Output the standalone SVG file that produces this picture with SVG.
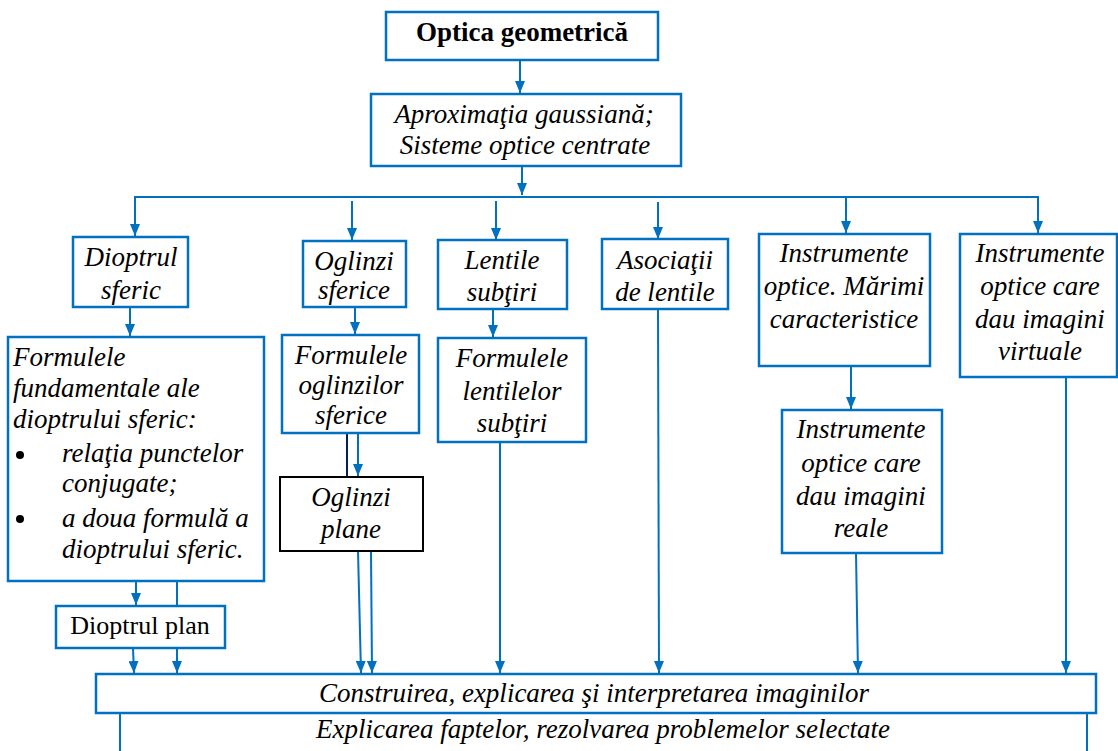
<svg xmlns="http://www.w3.org/2000/svg" width="1118" height="751" viewBox="0 0 1118 751">
  <defs>
    <marker id="arrow" viewBox="0 0 12 10" refX="12" refY="5" markerWidth="12" markerHeight="10" markerUnits="userSpaceOnUse" orient="auto">
      <path d="M0,0 L12,5 L0,10 z" fill="#0070C0"/>
    </marker>
  </defs>
  <style>
    .box { fill: #ffffff; stroke: #0070C0; stroke-width: 2.5; }
    .box-dark { fill: #ffffff; stroke: #000000; stroke-width: 2; }
    text { font-family: 'Liberation Serif', 'Times New Roman', serif; font-size: 27px; fill: #000000; }
    .i { font-style: italic; }
    .b { font-weight: bold; }
    .c { text-anchor: middle; }
    .ln { fill: none; stroke: #0070C0; stroke-width: 2; }
    .arr { fill: none; stroke: #0070C0; stroke-width: 2; marker-end: url(#arrow); }
    .navy { fill: none; stroke: #002060; stroke-width: 2; }
  </style>

  <rect width="1118" height="751" fill="#ffffff"/>

  <!-- connectors -->
  <g id="connectors">
    <line class="arr" x1="520" y1="61" x2="520" y2="93"/>
    <line class="arr" x1="522" y1="166" x2="522" y2="195"/>
    <line class="ln" x1="134" y1="197" x2="1039" y2="197"/>
    <line class="arr" x1="135" y1="197" x2="135" y2="236"/>
    <line class="arr" x1="352" y1="201" x2="352" y2="240"/>
    <line class="arr" x1="496" y1="201" x2="496" y2="240"/>
    <line class="arr" x1="658" y1="202" x2="658" y2="239"/>
    <line class="arr" x1="846" y1="197" x2="846" y2="233"/>
    <line class="arr" x1="1038" y1="197" x2="1038" y2="233"/>

    <line class="arr" x1="130" y1="307" x2="130" y2="336"/>
    <line class="arr" x1="355" y1="307" x2="355" y2="334"/>
    <line class="arr" x1="493" y1="309" x2="493" y2="337"/>
    <line class="arr" x1="851" y1="366" x2="851" y2="409"/>

    <line class="navy" x1="347" y1="433" x2="347" y2="477"/>
    <line class="arr" x1="358" y1="433" x2="358" y2="476"/>

    <line class="arr" x1="136" y1="581" x2="136" y2="605"/>
    <line class="ln" x1="177" y1="581" x2="177" y2="606"/>

    <line class="arr" x1="133" y1="648" x2="134" y2="673"/>
    <line class="arr" x1="177" y1="648" x2="177" y2="673"/>
    <line class="arr" x1="358" y1="551" x2="361" y2="673"/>
    <line class="arr" x1="371" y1="551" x2="372" y2="673"/>
    <line class="arr" x1="500" y1="442" x2="500" y2="673"/>
    <line class="arr" x1="658" y1="309" x2="659" y2="673"/>
    <line class="arr" x1="856" y1="553" x2="858" y2="673"/>
    <line class="arr" x1="1066" y1="377" x2="1066" y2="673"/>

    <line class="ln" x1="120" y1="713" x2="120" y2="751"/>
    <line class="ln" x1="1087" y1="713" x2="1087" y2="751"/>
  </g>

  <!-- nodes -->
  <g id="optica-geometrica">
    <rect class="box" x="386" y="12" width="272" height="48"/>
    <text class="b c" x="522" y="41">Optica geometrică</text>
  </g>

  <g id="aproximatia">
    <rect class="box" x="371" y="94" width="310" height="72"/>
    <text class="i c" x="524" y="123">Aproximaţia gaussiană;</text>
    <text class="i c" x="525" y="154">Sisteme optice centrate</text>
  </g>

  <g id="dioptrul-sferic">
    <rect class="box" x="73" y="237" width="115" height="70"/>
    <text class="i c" x="131" y="266">Dioptrul</text>
    <text class="i c" x="131" y="299">sferic</text>
  </g>

  <g id="oglinzi-sferice">
    <rect class="box" x="303" y="241" width="103" height="66"/>
    <text class="i c" x="354" y="270">Oglinzi</text>
    <text class="i c" x="354" y="299">sferice</text>
  </g>

  <g id="lentile-subtiri">
    <rect class="box" x="438" y="240" width="129" height="69"/>
    <text class="i c" x="502" y="269">Lentile</text>
    <text class="i c" x="502" y="301">subţiri</text>
  </g>

  <g id="asociatii">
    <rect class="box" x="602" y="239" width="126" height="70"/>
    <text class="i c" x="665" y="269">Asociaţii</text>
    <text class="i c" x="665" y="301">de lentile</text>
  </g>

  <g id="instrumente-marimi">
    <rect class="box" x="759" y="234" width="171" height="132"/>
    <text class="i c" x="844" y="262">Instrumente</text>
    <text class="i c" x="844" y="295">optice. Mărimi</text>
    <text class="i c" x="844" y="328">caracteristice</text>
  </g>

  <g id="instrumente-virtuale">
    <rect class="box" x="960" y="234" width="157" height="143"/>
    <text class="i c" x="1040" y="262">Instrumente</text>
    <text class="i c" x="1040" y="295">optice care</text>
    <text class="i c" x="1040" y="328">dau imagini</text>
    <text class="i c" x="1040" y="360">virtuale</text>
  </g>

  <g id="formulele-dioptrului">
    <rect class="box" x="8" y="337" width="256" height="244"/>
    <text class="i" x="13" y="366">Formulele</text>
    <text class="i" x="13" y="397">fundamentale ale</text>
    <text class="i" x="13" y="428">dioptrului sferic:</text>
    <circle cx="20" cy="455" r="4" fill="#000000"/>
    <text class="i" x="62" y="462">relaţia punctelor</text>
    <text class="i" x="62" y="492">conjugate;</text>
    <circle cx="20" cy="519" r="4" fill="#000000"/>
    <text class="i" x="62" y="527">a doua formulă a</text>
    <text class="i" x="62" y="558">dioptrului sferic.</text>
  </g>

  <g id="formulele-oglinzilor">
    <rect class="box" x="282" y="335" width="137" height="98"/>
    <text class="i c" x="351" y="364">Formulele</text>
    <text class="i c" x="351" y="394">oglinzilor</text>
    <text class="i c" x="351" y="424">sferice</text>
  </g>

  <g id="formulele-lentilelor">
    <rect class="box" x="438" y="338" width="148" height="104"/>
    <text class="i c" x="512" y="367">Formulele</text>
    <text class="i c" x="512" y="400">lentilelor</text>
    <text class="i c" x="512" y="432">subţiri</text>
  </g>

  <g id="oglinzi-plane">
    <rect class="box-dark" x="280" y="477" width="143" height="74"/>
    <text class="i c" x="351" y="506">Oglinzi</text>
    <text class="i c" x="351" y="538">plane</text>
  </g>

  <g id="instrumente-reale">
    <rect class="box" x="782" y="410" width="160" height="143"/>
    <text class="i c" x="861" y="438">Instrumente</text>
    <text class="i c" x="861" y="472">optice care</text>
    <text class="i c" x="861" y="505">dau imagini</text>
    <text class="i c" x="861" y="537">reale</text>
  </g>

  <g id="dioptrul-plan">
    <rect class="box" x="56" y="606" width="169" height="42"/>
    <text class="c" x="140" y="634" style="font-size:26px">Dioptrul plan</text>
  </g>

  <g id="construirea">
    <rect class="box" x="96" y="674" width="1000" height="39"/>
    <text class="i c" x="594" y="702">Construirea, explicarea şi interpretarea imaginilor</text>
  </g>

  <g id="explicarea">
    <text class="i c" x="603" y="738">Explicarea faptelor, rezolvarea problemelor selectate</text>
  </g>
</svg>
